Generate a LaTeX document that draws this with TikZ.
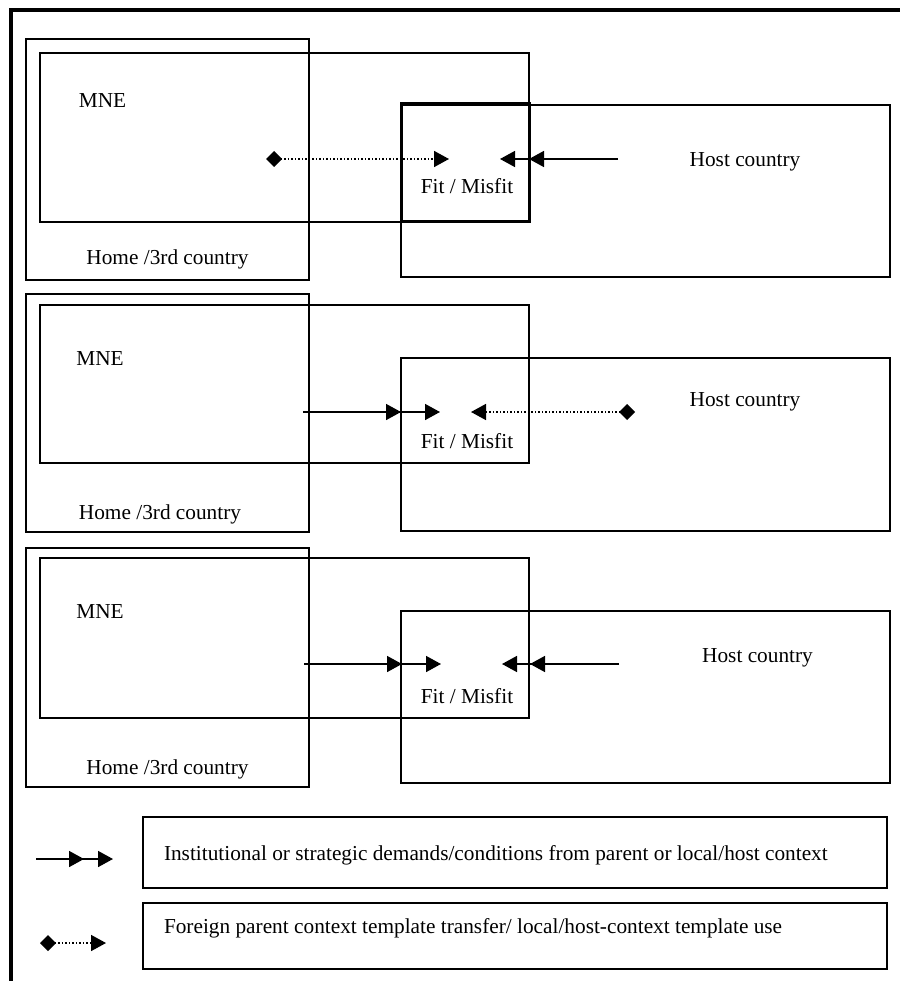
\documentclass[tikz,border=0pt]{standalone}
\usepackage{fontspec}
\setmainfont{Liberation Serif}
\usetikzlibrary{arrows.meta}
\tikzset{
  box/.style={draw, line width=1.6pt, inner sep=0pt, outer sep=0pt, anchor=north west},
  lbl/.style={font=\fontsize{21.3}{24}\selectfont, inner sep=0pt, outer sep=0pt, anchor=base},
  lbw/.style={font=\fontsize{21.3}{24}\selectfont, inner sep=0pt, outer sep=0pt, anchor=base west},
  dbl/.style={line width=1.6pt, line cap=butt,
    -{Triangle[length=15pt,width=16pt,sep=#1] Triangle[length=15pt,width=16pt]}},
  tmpl/.style={line width=1.6pt, line cap=butt, dash pattern=on 1.5pt off 2pt,
    {Diamond[length=16pt,width=16pt]}-{Triangle[length=15pt,width=16pt]}},
}
\begin{document}
\begin{tikzpicture}[x=1pt,y=-1pt]
\useasboundingbox (0,0) rectangle (900,981);
% outer frame
\draw[line width=4pt] (11,981) -- (11,10) -- (900,10);

% ---------- panel 1 ----------
\node[box, minimum width=283pt, minimum height=241pt] (home1) at (26,39) {};
\node[box, minimum width=489pt, minimum height=169pt] (mne1) at (40,53) {};
\node[box, minimum width=489pt, minimum height=172pt] (host1) at (401,105) {};
\node[box, line width=3pt, minimum width=128pt, minimum height=118pt] (fit1) at (401,104) {};
\node[lbl] (mnet1) at (102.5,108) {MNE};
\node[lbl] (homet1) at (167.5,265) {Home /3rd country};
\node[lbl] (hostt1) at (745,166.5) {Host country};
\node[lbl] (fitt1) at (467,194) {Fit / Misfit};
\coordinate (a1s) at (266,159);
\coordinate (a1e) at (449,159);
\coordinate (b1s) at (618,159);
\coordinate (b1e) at (500,159);
\draw[tmpl] (a1s) -- (a1e);
\draw[dbl=14pt] (b1s) -- (b1e);

% ---------- panel 2 ----------
\node[box, minimum width=283pt, minimum height=238pt] (home2) at (26,294) {};
\node[box, minimum width=489pt, minimum height=158pt] (mne2) at (40,305) {};
\node[box, minimum width=489pt, minimum height=173pt] (host2) at (401,358) {};
\node[lbl] (mnet2) at (100,365) {MNE};
\node[lbl] (homet2) at (160,519) {Home /3rd country};
\node[lbl] (hostt2) at (745,406.5) {Host country};
\node[lbl] (fitt2) at (467,448) {Fit / Misfit};
\coordinate (a2s) at (303,412);
\coordinate (a2e) at (440,412);
\coordinate (b2s) at (635,412);
\coordinate (b2e) at (471,412);
\draw[dbl=24pt] (a2s) -- (a2e);
\draw[tmpl] (b2s) -- (b2e);

% ---------- panel 3 ----------
\node[box, minimum width=283pt, minimum height=239pt] (home3) at (26,548) {};
\node[box, minimum width=489pt, minimum height=160pt] (mne3) at (40,558) {};
\node[box, minimum width=489pt, minimum height=172pt] (host3) at (401,611) {};
\node[lbl] (mnet3) at (100,618) {MNE};
\node[lbl] (homet3) at (167.5,774) {Home /3rd country};
\node[lbl] (hostt3) at (757.5,662.5) {Host country};
\node[lbl] (fitt3) at (467,703) {Fit / Misfit};
\coordinate (a3s) at (304,664);
\coordinate (a3e) at (441,664);
\coordinate (b3s) at (619,664);
\coordinate (b3e) at (502,664);
\draw[dbl=24pt] (a3s) -- (a3e);
\draw[dbl=13pt] (b3s) -- (b3e);

% ---------- legend ----------
\node[box, minimum width=744pt, minimum height=71pt] (leg1) at (143,817) {};
\node[box, minimum width=744pt, minimum height=66pt] (leg2) at (143,903) {};
\node[lbw] (legt1) at (164,860) {Institutional or strategic demands/conditions from parent or local/host context};
\node[lbw] (legt2) at (164,933) {Foreign parent context template transfer/ local/host-context template use};
\coordinate (c1s) at (36,859);
\coordinate (c1e) at (113,859);
\coordinate (c2s) at (40,943);
\coordinate (c2e) at (106,943);
\draw[dbl=14pt] (c1s) -- (c1e);
\draw[tmpl] (c2s) -- (c2e);
\end{tikzpicture}
\end{document}
